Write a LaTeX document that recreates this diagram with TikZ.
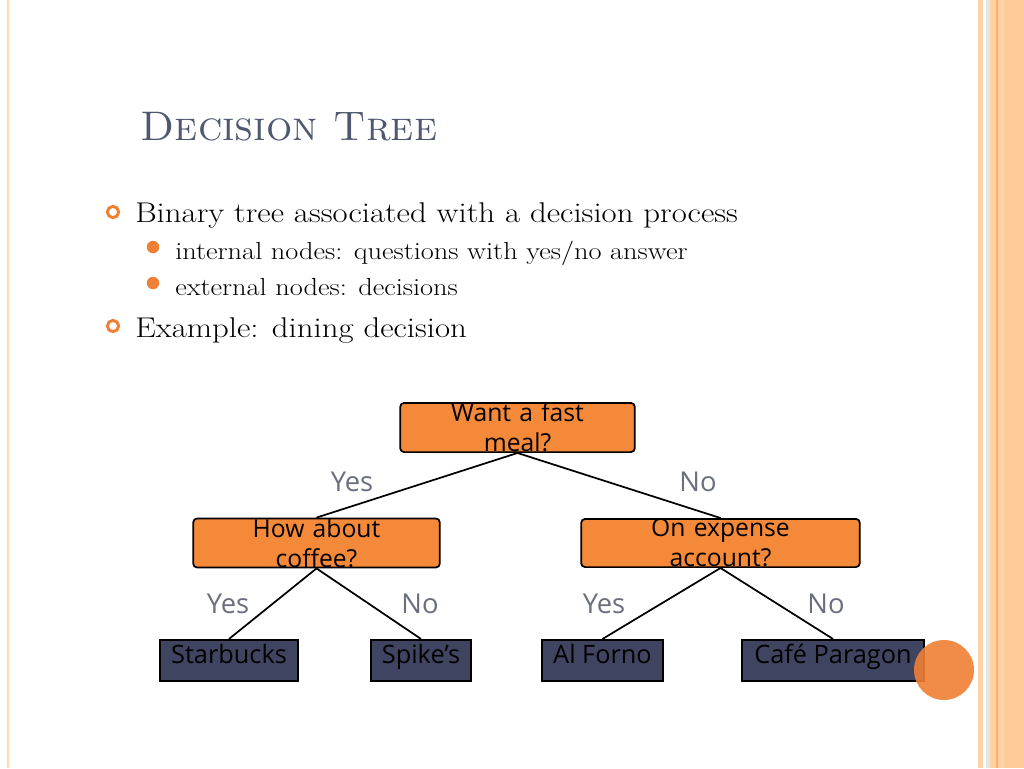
\documentclass[tikz,border=0pt]{standalone}
\usepackage{fontspec}
\newfontfamily\osans{Open Sans}
\newfontfamily\wserif{Latin Modern Roman}[FakeStretch=1.15]
\definecolor{boxor}{HTML}{F5893A}
\definecolor{slate}{HTML}{3F4460}
\definecolor{titlec}{HTML}{4F5870}
\definecolor{labc}{HTML}{6A6E7E}
\definecolor{bul}{HTML}{F08035}
\begin{document}
\begin{tikzpicture}[x=0.75pt,y=-0.75pt,
 q/.style={draw=black,line width=1.3pt,fill=boxor,rounded corners=3pt,minimum height=34.5pt,inner sep=0pt,font=\osans\fontsize{18.5}{22.5}\selectfont,align=center,text width=170pt},
 leaf/.style={draw=black,line width=1.3pt,fill=slate,minimum height=31pt,inner sep=0pt,text height=11pt,text depth=6pt,font=\osans\fontsize{19}{20}\selectfont,text=black},
 lab/.style={font=\osans\fontsize{20.5}{24}\selectfont,text=labc},
 edge/.style={line width=1.3pt}]
\useasboundingbox (0,0) rectangle (1024,768);
\fill[white] (0,0) rectangle (1024,768);
\fill[orange!30] (7,0) rectangle (9,768);
\fill[orange!35] (978,0) rectangle (1024,768);
\fill[white] (983,0) rectangle (986,768);
\fill[black!10] (986,0) rectangle (990,768);
\fill[orange!60] (996,0) rectangle (998,768);
\fill[orange!40] (1004,0) rectangle (1024,768);
\node[anchor=base west,text=titlec,font=\fontsize{31}{36}\selectfont\scshape] (title) at (136,140) {Decision Tree};
\node[draw=bul,line width=2.2pt,circle,inner sep=3pt] (b1) at (113,212) {};
\node[draw=bul,line width=2.2pt,circle,inner sep=3pt] (b2) at (113,326) {};
\node[fill=bul,circle,inner sep=3.3pt] (b3) at (153,247) {};
\node[fill=bul,circle,inner sep=3.3pt] (b4) at (153,283) {};
\node[anchor=base west,inner sep=0pt,font=\wserif\fontsize{21.4}{24}\selectfont] (t1) at (135,222) {Binary tree associated with a decision process};
\node[anchor=base west,inner sep=0pt,font=\wserif\fontsize{18.5}{22}\selectfont] (t2) at (175,259) {internal nodes: questions with yes/no answer};
\node[anchor=base west,inner sep=0pt,font=\wserif\fontsize{18.5}{22}\selectfont] (t3) at (175,295) {external nodes: decisions};
\node[anchor=base west,inner sep=0pt,font=\wserif\fontsize{21.4}{24}\selectfont] (t4) at (135,337) {Example: dining decision};
\node[q,minimum width=176pt] (root) at (517.5,427.5) {Want a fast\\meal?};
\node[q,minimum width=185pt] (L) at (316.5,543) {How about\\coffee?};
\node[q,minimum width=209pt] (R) at (720.5,543) {On expense\\account?};
\node[leaf,minimum width=103.5pt] (s) at (229,660.5) {Starbucks};
\node[leaf,minimum width=75pt] (sp) at (421,660.5) {Spike’s};
\node[leaf,minimum width=91pt] (af) at (602.5,660.5) {Al Forno};
\node[leaf,minimum width=136.5pt] (cp) at (833,660.5) {Café Paragon};
\draw[edge] (root.south) -- (L.north);
\draw[edge] (root.south) -- (R.north);
\draw[edge] (L.south) -- (s.north);
\draw[edge] (L.south) -- (sp.north);
\draw[edge] (R.south) -- (af.north);
\draw[edge] (R.south) -- (cp.north);
\node[lab] (y1) at (352,482) {Yes};
\node[lab] (n1) at (698,482) {No};
\node[lab] (y2) at (228,604) {Yes};
\node[lab] (n2) at (420,604) {No};
\node[lab] (y3) at (604,604) {Yes};
\node[lab] (n3) at (826,604) {No};
\fill[bul,opacity=0.9] (944,670) circle (30);
\end{tikzpicture}
\end{document}
